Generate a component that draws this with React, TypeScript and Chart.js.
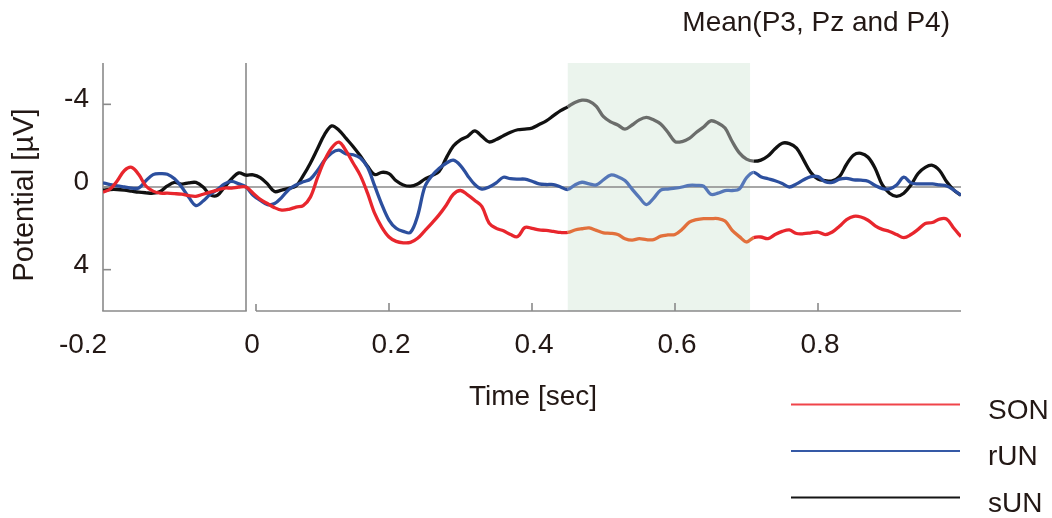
import React, { useEffect, useRef } from "react";
import { Chart, registerables } from "chart.js";

Chart.register(...registerables);

// ---- data ----
const TIME = [
  -0.2, -0.19, -0.18, -0.17, -0.16, -0.15, -0.14, -0.13, -0.12, -0.11, -0.1, -0.09, -0.08, -0.07, -0.06, -0.05, -0.04, -0.03, -0.02, -0.01,
  0.0, 0.01, 0.02, 0.03, 0.04, 0.05, 0.06, 0.07, 0.08, 0.09, 0.1, 0.11, 0.12, 0.13, 0.14, 0.15, 0.16, 0.17, 0.18, 0.19,
  0.2, 0.21, 0.22, 0.23, 0.24, 0.25, 0.26, 0.27, 0.28, 0.29, 0.3, 0.31, 0.32, 0.33, 0.34, 0.35, 0.36, 0.37, 0.38, 0.39,
  0.4, 0.41, 0.42, 0.43, 0.44, 0.45, 0.46, 0.47, 0.48, 0.49, 0.5, 0.51, 0.52, 0.53, 0.54, 0.55, 0.56, 0.57, 0.58, 0.59,
  0.6, 0.61, 0.62, 0.63, 0.64, 0.65, 0.66, 0.67, 0.68, 0.69, 0.7, 0.71, 0.72, 0.73, 0.74, 0.75, 0.76, 0.77, 0.78, 0.79,
  0.8, 0.81, 0.82, 0.83, 0.84, 0.85, 0.86, 0.87, 0.88, 0.89, 0.9, 0.91, 0.92, 0.93, 0.94, 0.95, 0.96, 0.97, 0.98, 0.99,
  1.0,
];

const SON = [
  0.25, 0.1, -0.3, -0.8, -0.95, -0.6, -0.05, 0.2, 0.3, 0.3, 0.32, 0.35, 0.42, 0.45, 0.35, 0.25, 0.15, 0.05, 0.05, 0.0,
  0.0, 0.3, 0.6, 0.8, 1.0, 1.12, 1.08, 0.97, 0.9, 0.49, -0.45, -1.3, -1.9, -2.17, -1.75, -1.15, -0.55, 0.3, 1.28, 1.95,
  2.42, 2.63, 2.7, 2.68, 2.48, 2.12, 1.75, 1.35, 0.88, 0.35, 0.17, 0.38, 0.65, 0.95, 1.75, 2.0, 2.12, 2.3, 2.4, 1.96,
  2.0, 2.08, 2.1, 2.15, 2.2, 2.2, 2.08, 2.02, 1.98, 2.1, 2.22, 2.24, 2.3, 2.5, 2.57, 2.5, 2.55, 2.55, 2.38, 2.32,
  2.3, 2.05, 1.7, 1.58, 1.53, 1.53, 1.53, 1.65, 2.1, 2.4, 2.66, 2.45, 2.42, 2.5, 2.3, 2.15, 2.08, 2.25, 2.26, 2.22,
  2.18, 2.3, 2.18, 1.9, 1.58, 1.42, 1.45, 1.61, 1.88, 2.05, 2.15, 2.3, 2.45, 2.3, 2.05, 1.77, 1.72, 1.55, 1.55, 2.0,
  2.4,
];

const RUN = [
  -0.2, -0.12, -0.05, 0.0, 0.05, 0.05, -0.3, -0.6, -0.65, -0.62, -0.4, 0.0, 0.5, 0.9, 0.68, 0.35, 0.12, -0.15, -0.27, -0.15,
  0.0, 0.4, 0.65, 0.85, 0.8, 0.5, 0.12, -0.1, -0.25, -0.38, -0.8, -1.3, -1.65, -1.78, -1.6, -1.56, -1.4, -0.95, -0.05, 0.85,
  1.6, 2.0, 2.15, 2.2, 1.4, 0.0, -0.55, -0.9, -1.15, -1.3, -1.04, -0.55, -0.12, 0.1, 0.0, -0.2, -0.47, -0.4, -0.38, -0.38,
  -0.28, -0.15, -0.12, -0.12, 0.0, 0.12, -0.1, -0.23, -0.15, -0.1, -0.35, -0.58, -0.5, -0.31, 0.1, 0.5, 0.85, 0.55, 0.15, 0.1,
  0.06, 0.0, -0.08, -0.08, -0.04, 0.35, 0.3, 0.17, 0.17, 0.1, -0.45, -0.71, -0.5, -0.4, -0.3, -0.17, 0.0, -0.15, -0.35, -0.5,
  -0.5, -0.25, -0.22, -0.38, -0.42, -0.35, -0.33, -0.28, -0.07, 0.08, 0.09, -0.1, -0.48, -0.2, -0.15, -0.15, -0.15, -0.1, -0.05, 0.15,
  0.4,
];

const SUN = [
  0.15, 0.12, 0.12, 0.15, 0.2, 0.25, 0.28, 0.3, 0.22, -0.05, -0.22, -0.14, -0.2, -0.22, 0.0, 0.38, 0.4, 0.0, -0.4, -0.68,
  -0.57, -0.59, -0.45, -0.15, 0.22, 0.15, 0.07, -0.05, -0.55, -1.15, -1.85, -2.55, -2.96, -2.75, -2.35, -1.95, -1.5, -1.0, -0.6, -0.71,
  -0.65, -0.3, -0.1, -0.04, -0.15, -0.38, -0.55, -0.75, -1.4, -1.98, -2.28, -2.45, -2.72, -2.45, -2.18, -2.3, -2.48, -2.65, -2.77, -2.8,
  -2.85, -3.02, -3.2, -3.45, -3.7, -3.88, -4.09, -4.2, -4.15, -3.9, -3.4, -3.15, -3.0, -2.8, -3.0, -3.25, -3.37, -3.25, -3.05, -2.65,
  -2.2, -2.2, -2.35, -2.65, -2.9, -3.2, -3.1, -2.85, -2.2, -1.65, -1.35, -1.25, -1.3, -1.5, -1.85, -2.12, -2.1, -1.88, -1.3, -0.7,
  -0.38, -0.31, -0.3, -0.5, -1.1, -1.55, -1.63, -1.44, -0.9, -0.1, 0.3, 0.45, 0.3, -0.1, -0.65, -0.95, -1.05, -0.8, -0.25, 0.15,
  0.4,
];

const SERIES_NAMES = ["SON", "rUN", "sUN"];
const X_TICKS = [-0.2, 0, 0.2, 0.4, 0.6, 0.8];
const X_TICK_LABELS = ["-0.2", "0", "0.2", "0.4", "0.6", "0.8"];
const Y_TICKS = [-4, 0, 4];
const Y_TICK_LABELS = ["-4", "0", "4"];
const SHADE_RANGE = [0.45, 0.705];
const TITLE = "Mean(P3, Pz and P4)";
const X_TITLE = "Time [sec]";
const Y_TITLE = "Potential [µV]";

// ---- style ----
const COLORS = ["#e8262d", "#2c4f9e", "#111111"];
const SHADE_LINE_COLORS = ["#e2703c", "#5577b8", "#6b6d6b"];
const LEGEND_COLORS = ["#f0444a", "#3559a6", "#151515"];
const SHADE_BG = "#ebf4ed";
const AXIS_COLOR = "#8a8a8a";
const TEXT_COLOR = "#231815";
const FONT = '"Liberation Sans", Arial, Helvetica, sans-serif';
const X_LABEL_NUDGE = [-20, 6, 2, 2, 2, 2];

function line(ctx: CanvasRenderingContext2D, x1: number, y1: number, x2: number, y2: number) {
  ctx.beginPath();
  ctx.moveTo(x1, y1);
  ctx.lineTo(x2, y2);
  ctx.stroke();
}

const decorPlugin = {
  id: "decor",
  beforeDatasetsDraw(chart: any) {
    const { ctx, chartArea: a, scales } = chart;
    const x = scales.x;
    const y = scales.y;
    ctx.save();
    const s0 = x.getPixelForValue(SHADE_RANGE[0]);
    const s1 = x.getPixelForValue(SHADE_RANGE[1]);
    ctx.fillStyle = SHADE_BG;
    ctx.fillRect(s0, a.top, s1 - s0, a.bottom - a.top);

    ctx.strokeStyle = AXIS_COLOR;
    ctx.lineWidth = 1.6;
    const y0 = y.getPixelForValue(0);
    const xz = x.getPixelForValue(0);
    line(ctx, a.left, y0, a.right, y0);
    line(ctx, xz, a.top, xz, a.bottom);
    line(ctx, a.left, a.top, a.left, a.bottom);
    line(ctx, a.left - 0.8, a.bottom, xz + 0.8, a.bottom);
    line(ctx, xz + 10, a.bottom, a.right, a.bottom);
    Y_TICKS.forEach((v) => {
      const py = y.getPixelForValue(v);
      line(ctx, a.left, py, a.left + 8, py);
    });
    X_TICKS.forEach((v) => {
      if (v <= 0) return;
      const px = x.getPixelForValue(v);
      line(ctx, px, a.bottom, px, a.bottom - 8);
    });
    line(ctx, xz + 10, a.bottom, xz + 10, a.bottom - 7);
    ctx.restore();
  },
  afterDraw(chart: any) {
    const { ctx, chartArea: a, scales } = chart;
    const x = scales.x;
    const y = scales.y;
    ctx.save();
    ctx.fillStyle = TEXT_COLOR;
    ctx.textBaseline = "alphabetic";

    ctx.font = `28px ${FONT}`;
    ctx.textAlign = "right";
    ctx.fillText(TITLE, 950, 31);

    ctx.font = `28px ${FONT}`;
    ctx.textAlign = "right";
    Y_TICKS.forEach((v, i) => {
      const py = y.getPixelForValue(v);
      ctx.fillText(Y_TICK_LABELS[i], a.left - 14, py + 3);
    });

    ctx.textAlign = "center";
    X_TICKS.forEach((v, i) => {
      const px = x.getPixelForValue(v);
      ctx.fillText(X_TICK_LABELS[i], px + X_LABEL_NUDGE[i], a.bottom + 42);
    });

    ctx.fillText(X_TITLE, 533, 405);
    ctx.save();
    ctx.font = `29px ${FONT}`;
    ctx.translate(33, 195);
    ctx.rotate(-Math.PI / 2);
    ctx.textAlign = "center";
    ctx.fillText(Y_TITLE, 0, 0);
    ctx.restore();

    const legendY = [404.5, 451, 497.5];
    ctx.textAlign = "left";
    SERIES_NAMES.forEach((name, i) => {
      ctx.strokeStyle = LEGEND_COLORS[i];
      ctx.lineWidth = 2.2;
      line(ctx, 791, legendY[i], 960, legendY[i]);
      ctx.fillStyle = TEXT_COLOR;
      ctx.fillText(name, 988, legendY[i] + 14);
    });
    ctx.restore();
  },
};

function inShade(t: number) {
  return t >= SHADE_RANGE[0] - 1e-9 && t < SHADE_RANGE[1];
}

export default function App() {
  const canvasRef = useRef<HTMLCanvasElement | null>(null);

  useEffect(() => {
    const canvas = canvasRef.current;
    if (!canvas) return;
    const seriesValues = [SON, RUN, SUN];
    const datasets = seriesValues.map((vals, i) => ({
      label: SERIES_NAMES[i],
      data: TIME.map((t, k) => ({ x: t, y: vals[k] })),
      borderColor: COLORS[i],
      borderWidth: 3.3,
      pointRadius: 0,
      tension: 0.35,
      fill: false,
      segment: {
        borderColor: (c: any) => (inShade(c.p0.parsed.x) ? SHADE_LINE_COLORS[i] : COLORS[i]),
      },
    }));
    const chart = new Chart(canvas, {
      type: "line",
      data: { datasets: datasets as any },
      options: {
        animation: false,
        responsive: false,
        devicePixelRatio: 1,
        layout: { padding: { left: 103, right: 91, top: 63, bottom: 207 } },
        scales: {
          x: { type: "linear", min: -0.2, max: 1.0, display: false },
          y: { type: "linear", min: -6, max: 6, reverse: true, display: false },
        },
        plugins: {
          legend: { display: false },
          tooltip: { enabled: false },
          title: { display: false },
        },
        events: [],
      },
      plugins: [decorPlugin],
    });
    return () => chart.destroy();
  }, []);

  return (
    <div style={{ position: "absolute", left: 0, top: 0, width: 1052, height: 518, background: "#fff" }}>
      <canvas ref={canvasRef} width={1052} height={518} style={{ display: "block" }} />
    </div>
  );
}
